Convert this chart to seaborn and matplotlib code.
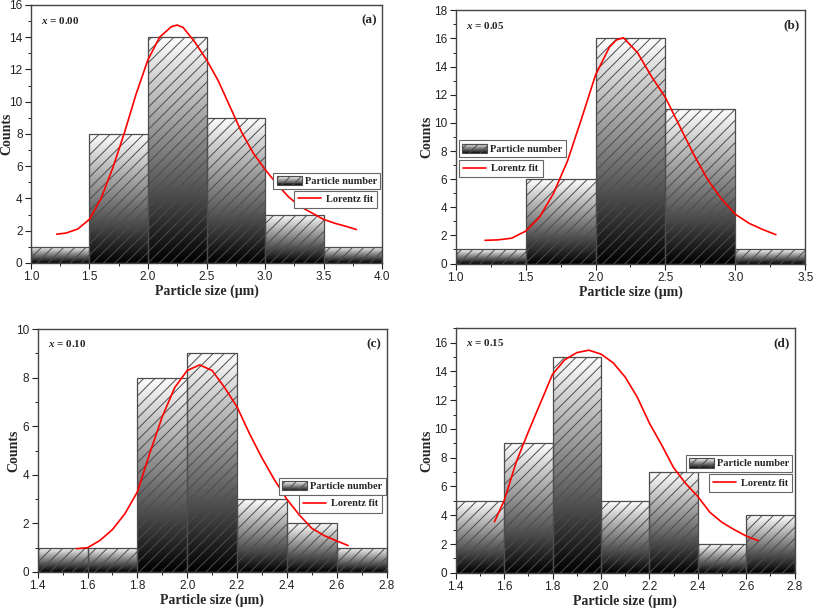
import numpy as np
import matplotlib
matplotlib.use("Agg")
import matplotlib.pyplot as plt
import seaborn as sns
from matplotlib.patches import Rectangle
from matplotlib.lines import Line2D
from matplotlib.legend_handler import HandlerBase
from matplotlib.ticker import AutoMinorLocator, MultipleLocator, FormatStrFormatter

# ---- data ----
a_edges = [1.0, 1.5, 2.0, 2.5, 3.0, 3.5, 4.0]
a_counts = [1, 8, 14, 9, 3, 1]
a_fit_x = [1.22, 1.30, 1.40, 1.50, 1.60, 1.70, 1.80, 1.90, 2.00, 2.10, 2.20, 2.25, 2.30,
           2.40, 2.50, 2.60, 2.70, 2.80, 2.90, 3.00, 3.10, 3.20, 3.30, 3.40, 3.50, 3.60, 3.70, 3.78]
a_fit_y = [1.78, 1.85, 2.1, 2.7, 4.0, 5.9, 8.1, 10.5, 12.6, 14.0, 14.65, 14.75, 14.6,
           13.7, 12.6, 11.3, 9.7, 8.1, 6.8, 5.8, 4.9, 4.1, 3.5, 3.1, 2.7, 2.45, 2.25, 2.07]

b_edges = [1.0, 1.5, 2.0, 2.5, 3.0, 3.5]
b_counts = [1, 6, 16, 11, 1]
b_fit_x = [1.21, 1.30, 1.40, 1.50, 1.60, 1.70, 1.80, 1.90, 2.00, 2.10, 2.15, 2.20, 2.30,
           2.40, 2.50, 2.60, 2.70, 2.80, 2.90, 3.00, 3.10, 3.20, 3.29]
b_fit_y = [1.65, 1.68, 1.8, 2.3, 3.3, 5.0, 7.3, 10.3, 13.4, 15.4, 15.9, 16.05, 15.0,
           13.3, 11.8, 9.8, 7.8, 6.0, 4.6, 3.5, 2.85, 2.4, 2.05]

c_edges = [1.4, 1.6, 1.8, 2.0, 2.2, 2.4, 2.6, 2.8]
c_counts = [1, 1, 8, 9, 3, 2, 1]
c_fit_x = [1.556, 1.60, 1.65, 1.70, 1.75, 1.80, 1.85, 1.90, 1.95, 2.00, 2.05, 2.10, 2.15,
           2.20, 2.25, 2.30, 2.35, 2.40, 2.45, 2.50, 2.55, 2.60, 2.646]
c_fit_y = [0.96, 1.0, 1.3, 1.75, 2.4, 3.3, 4.9, 6.4, 7.6, 8.3, 8.53, 8.3, 7.6,
           6.8, 5.7, 4.7, 3.8, 3.0, 2.35, 1.8, 1.5, 1.28, 1.09]

d_edges = [1.4, 1.6, 1.8, 2.0, 2.2, 2.4, 2.6, 2.8]
d_counts = [5, 9, 15, 5, 7, 2, 4]
d_fit_x = [1.56, 1.60, 1.65, 1.70, 1.75, 1.80, 1.85, 1.90, 1.95, 2.00, 2.05, 2.10, 2.15,
           2.20, 2.25, 2.30, 2.35, 2.40, 2.45, 2.50, 2.55, 2.60, 2.649]
d_fit_y = [3.55, 5.0, 7.7, 9.8, 11.8, 13.8, 14.8, 15.3, 15.47, 15.2, 14.6, 13.6, 12.2,
           10.4, 8.9, 7.3, 6.2, 5.3, 4.2, 3.5, 3.0, 2.55, 2.23]

sns.set_theme(style="ticks")
plt.rcParams["font.family"] = ["Liberation Sans", "DejaVu Sans"]
plt.rcParams["mathtext.fontset"] = "custom"
plt.rcParams["mathtext.it"] = "Liberation Serif:italic:bold"
plt.rcParams["hatch.linewidth"] = 0.7

SERIF = ["Liberation Serif", "DejaVu Serif"]
EDGE = "#4d4d4d"


class GradientHatchHandler(HandlerBase):
    """legend patch: grey gradient with hatch on top"""
    def create_artists(self, legend, orig_handle, xdescent, ydescent, width, height, fontsize, trans):
        arts = []
        n = 10
        for i in range(n):
            shade = 0.1 + 0.85 * i / (n - 1)
            arts.append(Rectangle((-xdescent, -ydescent + height * i / n), width, height / n + 0.2,
                                  facecolor=str(shade), edgecolor="none", transform=trans))
        arts.append(Rectangle((-xdescent, -ydescent), width, height, facecolor="none",
                              edgecolor=EDGE, hatch="///", lw=0.8, transform=trans))
        return arts


def draw_panel(ax, edges, counts, fit_x, fit_y, xmaj, ymax, ymaj, comp, tag, leg1, leg2, ylab_x):
    centers = [(edges[i] + edges[i + 1]) / 2 for i in range(len(counts))]
    sns.histplot(x=centers, weights=counts, bins=edges, ax=ax, stat="count")
    gradient = np.linspace(0, 1, 256).reshape(-1, 1)
    for p in list(ax.patches):
        p.set_facecolor("none")
        p.set_edgecolor(EDGE)
        p.set_linewidth(0.9)
        p.set_hatch("///")
        p.set_zorder(2)
        x0, h, w = p.get_x(), p.get_height(), p.get_width()
        im = ax.imshow(gradient, extent=(x0, x0 + w, 0, h), origin="lower", cmap="gray",
                       vmin=0, vmax=1, aspect="auto", zorder=1)
        im.set_clip_path(p)

    sns.lineplot(x=fit_x, y=fit_y, ax=ax, color="#ff0000", lw=1.2, sort=False,
                 estimator=None, zorder=3)

    ax.set_xlim(edges[0], edges[-1])
    ax.set_ylim(0, ymax)
    ax.xaxis.set_major_locator(MultipleLocator(xmaj))
    ax.yaxis.set_major_locator(MultipleLocator(ymaj))
    ax.xaxis.set_minor_locator(AutoMinorLocator(2))
    ax.yaxis.set_minor_locator(AutoMinorLocator(2))
    ax.tick_params(which="major", direction="out", length=4, width=0.8, labelsize=8.5,
                   colors="#222222", pad=2)
    ax.tick_params(which="minor", direction="out", length=2, width=0.7, colors="#222222")
    ax.tick_params(top=False, right=False, which="both")
    ax.xaxis.set_major_formatter(FormatStrFormatter("%.1f"))
    for s in ax.spines.values():
        s.set_visible(True)
        s.set_color("#444444")
        s.set_linewidth(1.0)

    ax.set_xlabel("Particle size (μm)", family=SERIF, fontweight="bold", fontsize=10, labelpad=1)
    ax.set_ylabel("Counts", family=SERIF, fontweight="bold", fontsize=10)
    ax.yaxis.set_label_coords(ylab_x, 0.5)

    ax.text(0.03, 0.94, "$x$ = " + comp, transform=ax.transAxes, family=SERIF,
            fontweight="bold", fontsize=8, va="center", ha="left")
    ax.text(0.985, 0.94, tag, transform=ax.transAxes, family=SERIF,
            fontweight="bold", fontsize=9.5, va="center", ha="right")

    hist_handle = Rectangle((0, 0), 1, 1)
    fit_handle = Line2D([], [], color="#ff0000", lw=1.2)
    lg_font = {"family": SERIF, "weight": "bold", "size": 7.5}
    loc = "upper left" if leg1[0] < 0.5 else "upper right"
    l1 = ax.legend([hist_handle], ["Particle number"], loc=loc, bbox_to_anchor=leg1,
                   prop=lg_font, frameon=True, fancybox=False, framealpha=1,
                   edgecolor="#666666", borderpad=0.3, handlelength=2.4, handleheight=1.0,
                   handletextpad=0.3, borderaxespad=0,
                   handler_map={Rectangle: GradientHatchHandler()})
    l1.get_frame().set_linewidth(0.8)
    ax.add_artist(l1)
    l2 = ax.legend([fit_handle], ["Lorentz fit"], loc=loc, bbox_to_anchor=leg2,
                   prop=lg_font, frameon=True, fancybox=False, framealpha=1,
                   edgecolor="#666666", borderpad=0.4, handlelength=2.2,
                   handletextpad=0.5, borderaxespad=0)
    l2.get_frame().set_linewidth(0.8)


fig = plt.figure(figsize=(8.13, 6.10), dpi=100)
ax_a = fig.add_axes([0.038, 0.569, 0.432, 0.423])
ax_b = fig.add_axes([0.5605, 0.568, 0.430, 0.415])
ax_c = fig.add_axes([0.0464, 0.0623, 0.429, 0.398])
ax_d = fig.add_axes([0.5605, 0.061, 0.417, 0.401])

draw_panel(ax_a, a_edges, a_counts, a_fit_x, a_fit_y, 0.5, 16, 2, "0.00", "(a)",
           (0.994, 0.349), (0.986, 0.28), -0.05)
draw_panel(ax_b, b_edges, b_counts, b_fit_x, b_fit_y, 0.5, 18, 2, "0.05", "(b)",
           (0.01, 0.486), (0.01, 0.41), -0.065)
draw_panel(ax_c, c_edges, c_counts, c_fit_x, c_fit_y, 0.2, 10, 2, "0.10", "(c)",
           (0.998, 0.387), (0.988, 0.317), -0.05)
draw_panel(ax_d, d_edges, d_counts, d_fit_x, d_fit_y, 0.2, 17, 2, "0.15", "(d)",
           (0.993, 0.481), (0.993, 0.402), -0.067)

fig.savefig("out.png", dpi=100)
plt.close(fig)
